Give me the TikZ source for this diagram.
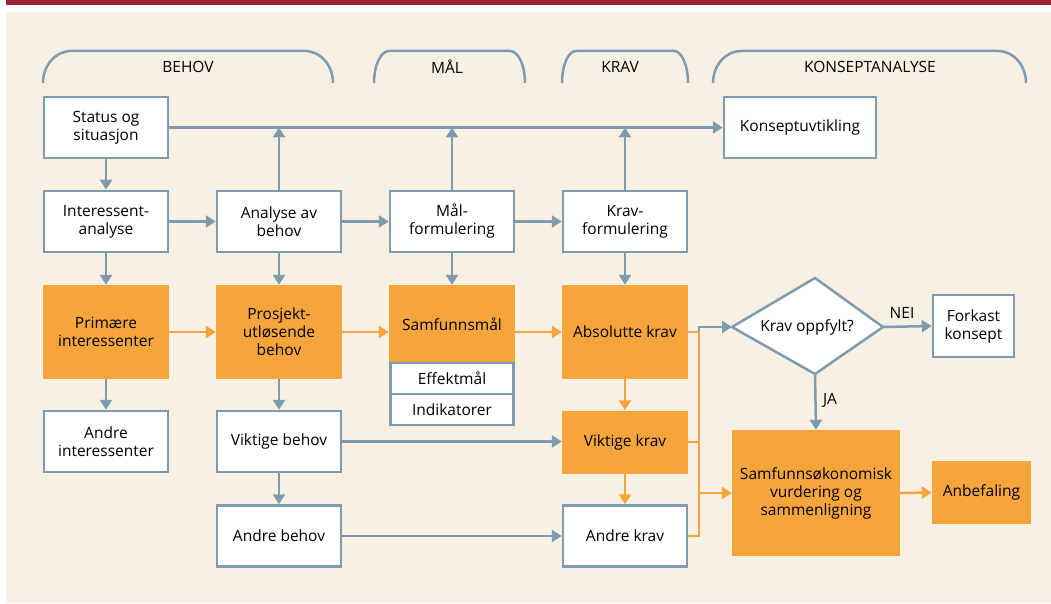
\documentclass[tikz,border=0pt]{standalone}
\usepackage{fontspec}
\setmainfont{Open Sans}
\usetikzlibrary{arrows.meta}
\definecolor{bg}{HTML}{F8F0E2}
\definecolor{org}{HTML}{F5A53B}
\definecolor{bl}{HTML}{7F9BB0}
\definecolor{redbar}{HTML}{9C2535}
\begin{document}
\begin{tikzpicture}[x=1pt,y=-1pt,
  font=\fontsize{15.5}{18}\selectfont,
  wbox/.style={draw=bl,line width=2.5pt,fill=white,align=center,inner sep=0pt,text=black},
  obox/.style={fill=org,align=center,inner sep=0pt,text=black},
  barr/.style={draw=bl,line width=2.5pt,-{Triangle[length=10pt,width=12pt]}},
  oarr/.style={draw=org,line width=2.5pt,-{Triangle[length=10pt,width=12pt]}},
  oline/.style={draw=org,line width=2.5pt},
  bline/.style={draw=bl,line width=2.5pt},
  brk/.style={draw=bl,line width=2.5pt},
  lbl/.style={text=black,inner sep=0pt}]
\useasboundingbox (0,0) rectangle (1051,604);
\fill[white] (0,0) rectangle (1051,604);
\fill[redbar] (6,0) rectangle (1051,5);
\fill[bg] (6,12) rectangle (1051,603);

% brackets
\draw[brk] (43,83) arc[start angle=180,end angle=270,x radius=28,y radius=32] -- (305,51) arc[start angle=270,end angle=360,x radius=28,y radius=32];
\node[lbl] (hbehov) at (188,67) {BEHOV};
\draw[brk] (374,83) arc[start angle=180,end angle=270,x radius=15,y radius=32] -- (510,51) arc[start angle=270,end angle=360,x radius=15,y radius=32];
\node[lbl] (hmal) at (447,67) {MÅL};
\draw[brk] (562,83) arc[start angle=180,end angle=270,x radius=14,y radius=32] -- (674,51) arc[start angle=270,end angle=360,x radius=14,y radius=32];
\node[lbl] (hkrav) at (620,67) {KRAV};
\draw[brk] (713,83) arc[start angle=180,end angle=270,x radius=28,y radius=32] -- (998,51) arc[start angle=270,end angle=360,x radius=28,y radius=32];
\node[lbl] (hkons) at (870,67) {KONSEPTANALYSE};

% row 1
\node[wbox,minimum width=124,minimum height=61] (status) at (106,127.5) {Status og\\situasjon};
\node[wbox,minimum width=152,minimum height=61] (kuvt) at (800,127.5) {Konseptuvtikling};
% row 2
\node[wbox,minimum width=124,minimum height=61] (inter) at (106,221.5) {Interessent-\\analyse};
\node[wbox,minimum width=124,minimum height=61] (anal) at (279,221.5) {Analyse av\\behov};
\node[wbox,minimum width=124,minimum height=61] (malf) at (452,221.5) {Mål-\\formulering};
\node[wbox,minimum width=124,minimum height=61] (kravf) at (625,221.5) {Krav-\\formulering};
% row 3
\node[obox,minimum width=126,minimum height=94] (prim) at (106,332) {Primære\\interessenter};
\node[obox,minimum width=126,minimum height=94] (prosj) at (279,332) {Prosjekt-\\utløsende\\behov};
\node[obox,minimum width=126,minimum height=78] (samf) at (452,324) {Samfunnsmål};
\node[wbox,minimum width=123,minimum height=31] (effekt) at (452,378.5) {Effektmål};
\node[wbox,minimum width=123,minimum height=31] (indik) at (452,409.5) {Indikatorer};
\node[obox,minimum width=126,minimum height=94] (abs) at (625,332) {Absolutte krav};
% row 4
\node[wbox,minimum width=124,minimum height=61] (andint) at (106,441.5) {Andre\\interessenter};
\node[wbox,minimum width=124,minimum height=61] (vbeh) at (279,441.5) {Viktige behov};
\node[obox,minimum width=126,minimum height=63] (vkrav) at (625,442) {Viktige krav};
% row 5
\node[wbox,minimum width=124,minimum height=61] (abeh) at (279,536) {Andre behov};
\node[wbox,minimum width=124,minimum height=61] (akrav) at (625,536) {Andre krav};

% decision
\coordinate (dl) at (732,327);
\coordinate (dt) at (815,278);
\coordinate (dr) at (883,327);
\coordinate (db) at (815,374);
\draw[bl,line width=2.5pt,fill=white,line join=miter] (dl) -- (dt) -- (dr) -- (db) -- cycle;
\node[lbl] (kravopp) at (807,327) {Krav oppfylt?};
\node[wbox,minimum width=81,minimum height=62] (forkast) at (973.5,326) {Forkast\\konsept};
\node[obox,minimum width=168,minimum height=126] (samok) at (816,493) {Samfunnsøkonomisk\\vurdering og\\sammenligning};
\node[obox,minimum width=99,minimum height=63] (anbef) at (981.5,492.5) {Anbefaling};

% blue connectors
\draw[barr] (status.east) -- (kuvt.west);
\draw[barr] (status.south) -- (inter.north);
\draw[barr] (anal.north) -- (anal.north |- status.east);
\draw[barr] (malf.north) -- (malf.north |- status.east);
\draw[barr] (kravf.north) -- (kravf.north |- status.east);
\draw[barr] (inter.east) -- (anal.west);
\draw[barr] (anal.east) -- (malf.west);
\draw[barr] (malf.east) -- (kravf.west);
\draw[barr] (inter.south) -- (prim.north);
\draw[barr] (anal.south) -- (prosj.north);
\draw[barr] (malf.south) -- (samf.north);
\draw[barr] (kravf.south) -- (abs.north);
\draw[barr] (prim.south) -- (andint.north);
\draw[barr] (prosj.south) -- (vbeh.north);
\draw[barr] (vbeh.south) -- (abeh.north);
\draw[barr] (vbeh.east) -- (vbeh.east -| vkrav.west);
\draw[barr] (abeh.east) -- (akrav.west);

% orange connectors
\draw[oarr] (prim.east) -- (prosj.west);
\draw[oarr] (prosj.east) -- (prosj.east -| samf.west);
\draw[oarr] (samf.east |- abs.west) -- (abs.west);
\draw[oarr] (abs.south) -- (vkrav.north);
\draw[oarr] (vkrav.south) -- (akrav.north);

% collector
\coordinate (c1) at (699,332);
\coordinate (c2) at (699,442);
\coordinate (c3) at (699,536);
\coordinate (c4) at (699,493);
\draw[oline] (abs.east) -- (c1);
\draw[oline] (vkrav.east) -- (c2);
\draw[oline] (akrav.east) -- (c3);
\draw[oline,line cap=rect] (c1) -- (c3);
\draw[oarr] (c4) -- (samok.west);
\draw[barr] (c1) -- (699,327) -- (dl);

\draw[barr] (dr) -- (forkast.west);
\node[lbl] (nei) at (902,313) {NEI};
\draw[barr] (db) -- (samok.north);
\node[lbl] (ja) at (830,400) {JA};
\draw[oarr] (samok.east) -- (anbef.west);
\end{tikzpicture}
\end{document}
